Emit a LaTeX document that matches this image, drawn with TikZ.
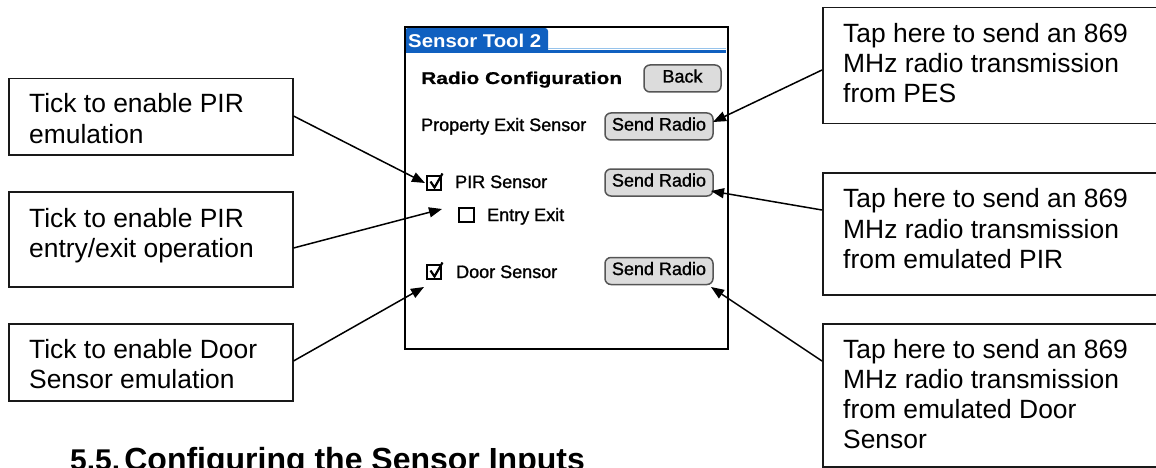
\documentclass[tikz,border=0pt]{standalone}
\usepackage{fontspec}
\setmainfont{Liberation Sans}
\newfontfamily\palmfont[FakeBold=1.2]{Liberation Sans}
\newfontfamily\palmwide[FakeStretch=1.23,FakeBold=0.8]{Liberation Sans}
\newfontfamily\palmtitle[FakeStretch=1.1]{Liberation Sans}
\usetikzlibrary{arrows.meta}

\definecolor{tabblue}{RGB}{16,96,192}
\definecolor{tabpale}{RGB}{150,195,235}
\definecolor{btnfill}{RGB}{220,220,220}
\definecolor{btnedge}{RGB}{85,85,85}
\definecolor{boxedge}{RGB}{25,25,25}

\begin{document}
\begin{tikzpicture}[x=1pt,y=-1pt,
  callbox/.style={draw=boxedge, line width=1.5pt, inner sep=0pt, anchor=north west},
  calltext/.style={anchor=base west, inner sep=0pt, font=\fontsize{26.4}{30}\selectfont},
  palmtext/.style={anchor=base west, inner sep=0pt, font=\palmfont\fontsize{18}{20}\selectfont},
  palmbtn/.style={draw=btnedge, fill=btnfill, line width=1.5pt, rounded corners=6pt,
    minimum height=27pt, inner sep=0pt, text height=13pt, text depth=5pt,
    font=\palmfont\fontsize{18}{20}\selectfont},
  tickbox/.style={line width=2pt},
  tickmark/.style={line width=2.2pt},
  ptr/.style={line width=1.5pt, -{Triangle[length=13pt,width=10pt]}}
]
\useasboundingbox (0,0) rectangle (1156,468);
\clip (0,0) rectangle (1156,468);

% ---- handheld screen ----
\fill[tabblue] (405,52) {[rounded corners=3pt] -- (405,28) -- (548,28)} -- (548,52) -- cycle;
\draw[tabpale, line width=1.5pt] (548,48.5) -- (726,48.5);
\draw[tabblue, line width=2.5pt] (405,51.5) -- (726,51.5);
\node[anchor=base west, inner sep=0pt, text=white, font=\palmtitle\fontsize{18.5}{20}\selectfont\bfseries] (title) at (408,48) {Sensor Tool 2};

\node[anchor=base west, inner sep=0pt, font=\palmwide\fontsize{17}{20}\selectfont\bfseries] (heading) at (421,84) {Radio Configuration};
\node[palmbtn, minimum width=77pt] (back) at (682.5,78.5) {Back};

\node[palmtext] (pes) at (421,131) {Property Exit Sensor};
\node[palmbtn, minimum width=108pt] (send1) at (659,126.5) {Send Radio};

\draw[tickbox] (427,176) rectangle (441,190);
\draw[tickmark] (430.5,181.5) -- (434.5,187.5) -- (442.5,173.5);
\coordinate (pirbox) at (425,183);
\node[palmtext] (pir) at (455,188) {PIR Sensor};
\node[palmbtn, minimum width=108pt] (send2) at (659,182.5) {Send Radio};

\draw[tickbox] (459,208) rectangle (474,222);
\coordinate (entrybox) at (442,209);
\node[palmtext] (entry) at (487,221) {Entry Exit};

\draw[tickbox] (427,265) rectangle (441,279);
\draw[tickmark] (430.5,270.5) -- (434.5,276.5) -- (442.5,262.5);
\coordinate (doorbox) at (424,287);
\node[palmtext] (door) at (456,278) {Door Sensor};
\node[palmbtn, minimum width=108pt] (send3) at (659,271) {Send Radio};

\node[draw=black, line width=2pt, minimum width=323pt, minimum height=322pt, inner sep=0pt, anchor=north west] (screen) at (404,26) {};

% ---- callouts on the left ----
\node[callbox, minimum width=284pt, minimum height=76pt] (lbox1) at (8,78) {};
\node[calltext] (l1a) at (29,113) {Tick to enable PIR};
\node[calltext] (l1b) at (29,143) {emulation};

\node[callbox, minimum width=284pt, minimum height=95pt] (lbox2) at (8,191) {};
\node[calltext] (l2a) at (29,227) {Tick to enable PIR};
\node[calltext] (l2b) at (29,257) {entry/exit operation};

\node[callbox, minimum width=284pt, minimum height=77pt] (lbox3) at (8,323) {};
\node[calltext] (l3a) at (29,358) {Tick to enable Door};
\node[calltext] (l3b) at (29,388) {Sensor emulation};

% ---- callouts on the right ----
\node[callbox, minimum width=337pt, minimum height=116pt] (rbox1) at (822,7) {};
\node[calltext] (r1a) at (843,43) {Tap here to send an 869};
\node[calltext] (r1b) at (843,73) {MHz radio transmission};
\node[calltext] (r1c) at (843,103) {from PES};

\node[callbox, minimum width=337pt, minimum height=122pt] (rbox2) at (822,172) {};
\node[calltext] (r2a) at (843,207) {Tap here to send an 869};
\node[calltext] (r2b) at (843,238) {MHz radio transmission};
\node[calltext] (r2c) at (843,268) {from emulated PIR};

\node[callbox, minimum width=337pt, minimum height=143pt] (rbox3) at (822,323) {};
\node[calltext] (r3a) at (843,358) {Tap here to send an 869};
\node[calltext] (r3b) at (843,388) {MHz radio transmission};
\node[calltext] (r3c) at (843,418) {from emulated Door};
\node[calltext] (r3d) at (843,448) {Sensor};

% ---- pointers ----
\coordinate (send1tip) at (713,122);
\coordinate (send2tip) at (711,191);
\coordinate (send3tip) at (711,287);
\draw[ptr] (lbox1.east |- 0,116) -- (pirbox);
\draw[ptr] (lbox2.east |- 0,248) -- (entrybox);
\draw[ptr] (lbox3.east |- 0,361) -- (doorbox);
\draw[ptr] (rbox1.west |- 0,70) -- (send1tip);
\draw[ptr] (rbox2.west |- 0,210) -- (send2tip);
\draw[ptr] (rbox3.west |- 0,361) -- (send3tip);

% ---- section heading, running off the lower edge ----
\node[anchor=base west, inner sep=0pt, font=\fontsize{30}{34}\selectfont\bfseries] (secnum) at (70,470) {5.5.};
\node[anchor=base east, inner sep=0pt, font=\fontsize{32}{36}\selectfont\bfseries] (sectitle) at (585,470) {Configuring the Sensor Inputs};
\end{tikzpicture}
\end{document}
